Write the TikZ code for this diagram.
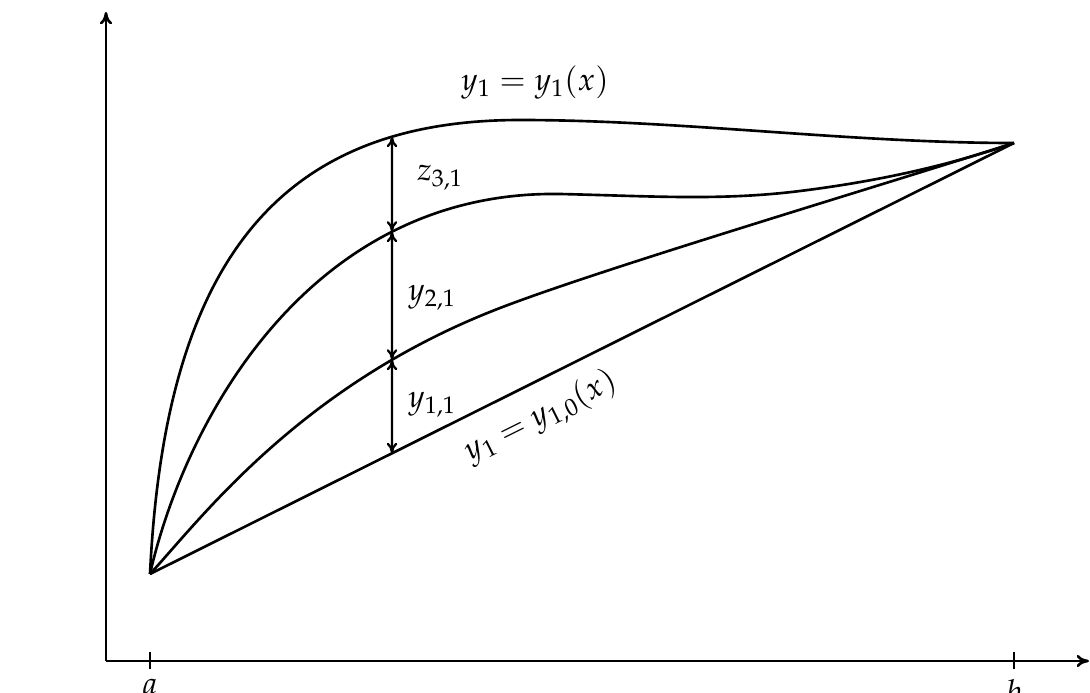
\documentclass[tikz,border=0pt]{standalone}
\usepackage{mathpazo}
\usetikzlibrary{arrows.meta,intersections}
\begin{document}
\begin{tikzpicture}[x=0.02cm,y=-0.02cm,
  curve/.style={line width=1.5pt},
  axis/.style={line width=1.5pt,-{To[length=7pt,width=7pt]}},
  gap/.style={line width=1.3pt,{To[length=6pt,width=6pt]}-{To[length=6pt,width=6pt]}},
  lbl/.style={font=\fontsize{18}{22}\selectfont}]
\useasboundingbox (0,0) rectangle (1090,693);
% axes
\coordinate (O) at (106,661);
\coordinate (ytop) at (106,12);
\coordinate (xend) at (1089,661);
\draw[axis] (O) -- (ytop);
\draw[axis] (O) -- (xend);
\draw[line width=1.5pt] (150,652) -- (150,669);
\draw[line width=1.5pt] (1014,652) -- (1014,669);
\node[lbl,anchor=north] (la) at (150,673) {$a$};
\node[lbl,anchor=north] (lb) at (1014,673) {$b$};
% end points
\coordinate (A) at (150,574);
\coordinate (B) at (1014,143);
% straight line
\draw[curve,name path=c0] (A) -- (B);
% top curve
\draw[curve,name path=c3] (A) .. controls (165,260) and (280,120) .. (520,120)
  .. controls (680,120) and (850,143) .. (B);
% second curve
\draw[curve,name path=c2] (A) .. controls (185,420) and (310,190) .. (560,194)
  .. controls (650,196) and (720,201) .. (800,191)
  .. controls (880,181) and (950,165) .. (B);
% third curve
\draw[curve,name path=c1] (A) .. controls (200,520) and (300,385) .. (500,308)
  .. controls (600,269.5) and (850,195) .. (B);
% gaps
\path[name path=vl] (392,20) -- (392,640);
\path[name intersections={of=c3 and vl,by=p3}];
\path[name intersections={of=c2 and vl,by=p2}];
\path[name intersections={of=c1 and vl,by=p1}];
\path[name intersections={of=c0 and vl,by=p0}];
\draw[gap] (p3) -- (p2);
\draw[gap] (p2) -- (p1);
\draw[gap] (p1) -- (p0);
\node[lbl] (z31) at (440,178) {$z_{3,1}$};
\node[lbl] (y21) at (432,298) {$y_{2,1}$};
\node[lbl] (y11) at (432,405) {$y_{1,1}$};
\node[lbl] (top) at (535,83) {$y_1 = y_1(x)$};
\node[lbl,rotate=26.5] (bot) at (541,417) {$y_1 = y_{1,0}(x)$};
\end{tikzpicture}
\end{document}
